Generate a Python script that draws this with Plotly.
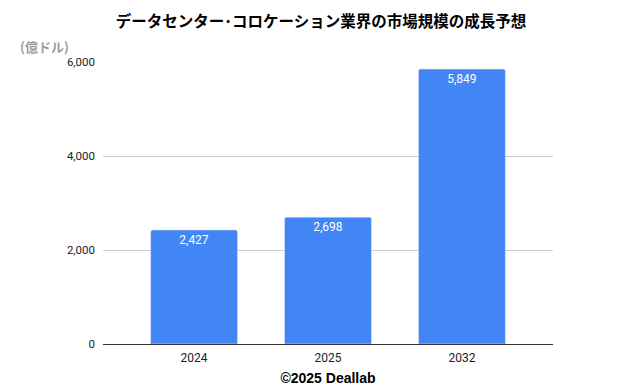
import plotly.graph_objects as go

years = ["2024", "2025", "2032"]
values = [2427, 2698, 5849]
labels = ["2,427", "2,698", "5,849"]
tick_vals = [0, 2000, 4000, 6000]
tick_text = ["0", "2,000", "4,000", "6,000"]

fig = go.Figure(go.Bar(
    x=years, y=values, text=labels, textposition="inside",
    insidetextanchor="end", textangle=0,
    textfont=dict(color="white", size=12, family="Roboto"),
    marker=dict(color="#4285f4", cornerradius=2),
))

fig.update_layout(
    width=626, height=386,
    paper_bgcolor="white", plot_bgcolor="white",
    margin=dict(l=95, r=81, t=54, b=50, autoexpand=False),
    bargap=0.351,
    showlegend=False,
    title=dict(text="<b>データセンター･コロケーション業界の市場規模の成長予想</b>",
               x=0.5, xanchor="center", y=0.964, yref="container", yanchor="middle",
               font=dict(family="Noto Sans CJK JP", size=15.5, color="#000")),
    xaxis=dict(
        automargin=False,
        range=[-0.68, 2.68],
        tickfont=dict(family="Roboto", size=12, color="#222"),
        ticklabelstandoff=3,
        title=dict(text="<b>©2025 Deallab</b>", standoff=8,
                   font=dict(family="Liberation Sans", size=14, color="#000")),
        showline=True, linecolor="#333", linewidth=1, ticks="",
    ),
    yaxis=dict(
        automargin=False,
        range=[0, 6000], tickvals=tick_vals, ticktext=tick_text,
        tickfont=dict(family="Roboto", size=11.5, color="#222"),
        gridcolor="#cccccc", gridwidth=1, zeroline=False,
        ticks="", ticklabelstandoff=7,
    ),
    annotations=[dict(
        text="<b>(億ドル)</b>", xref="paper", yref="paper",
        x=-0.19, y=1.015, xanchor="left", yanchor="bottom", showarrow=False,
        font=dict(family="Noto Sans CJK JP", size=13, color="#9e9e9e"),
    )],
)

fig.write_html("out.html")
